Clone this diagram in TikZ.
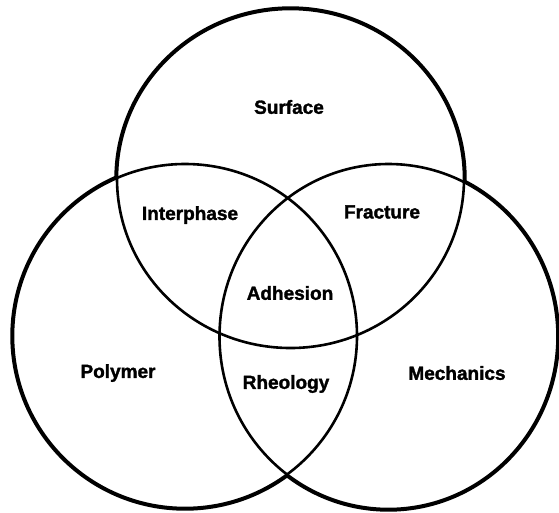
\documentclass[tikz,border=0pt]{standalone}
\usepackage{fontspec}
\newfontfamily\labfont[BoldFeatures={FakeBold=1.6}]{Liberation Sans}
\begin{document}
\begin{tikzpicture}[x=1pt,y=-1pt,
  lab/.style={font=\labfont\bfseries\fontsize{19}{22}\selectfont, inner sep=0pt, anchor=center},
  thickring/.style={line width=5.4pt},
  thinring/.style={line width=2.6pt}]
\useasboundingbox (0,0) rectangle (559,512);
\coordinate (T) at (290.5,178.5);
\coordinate (L) at (185,336);
\coordinate (R) at (388.5,336.5);
% thick outer outline
\draw[thickring] (T) ellipse [x radius=173.5, y radius=169.5];
\draw[thickring] (L) ellipse [x radius=172, y radius=172];
\draw[thickring] (R) ellipse [x radius=169, y radius=172.5];
% wipe interiors
\fill[white] (T) ellipse [x radius=173.5, y radius=169.5];
\fill[white] (L) ellipse [x radius=172, y radius=172];
\fill[white] (R) ellipse [x radius=169, y radius=172.5];
% thin rings
\draw[thinring] (T) ellipse [x radius=173.5, y radius=169.5];
\draw[thinring] (L) ellipse [x radius=172, y radius=172];
\draw[thinring] (R) ellipse [x radius=169, y radius=172.5];
% labels
\node[lab] (surface) at (289,107) {Surface};
\node[lab] (interphase) at (190,215) {Interphase};
\node[lab] (fracture) at (382,212) {Fracture};
\node[lab] (adhesion) at (290,293) {Adhesion};
\node[lab] (polymer) at (118,373) {Polymer};
\node[lab] (rheology) at (286,384) {Rheology};
\node[lab] (mechanics) at (457,373) {Mechanics};
\end{tikzpicture}
\end{document}
